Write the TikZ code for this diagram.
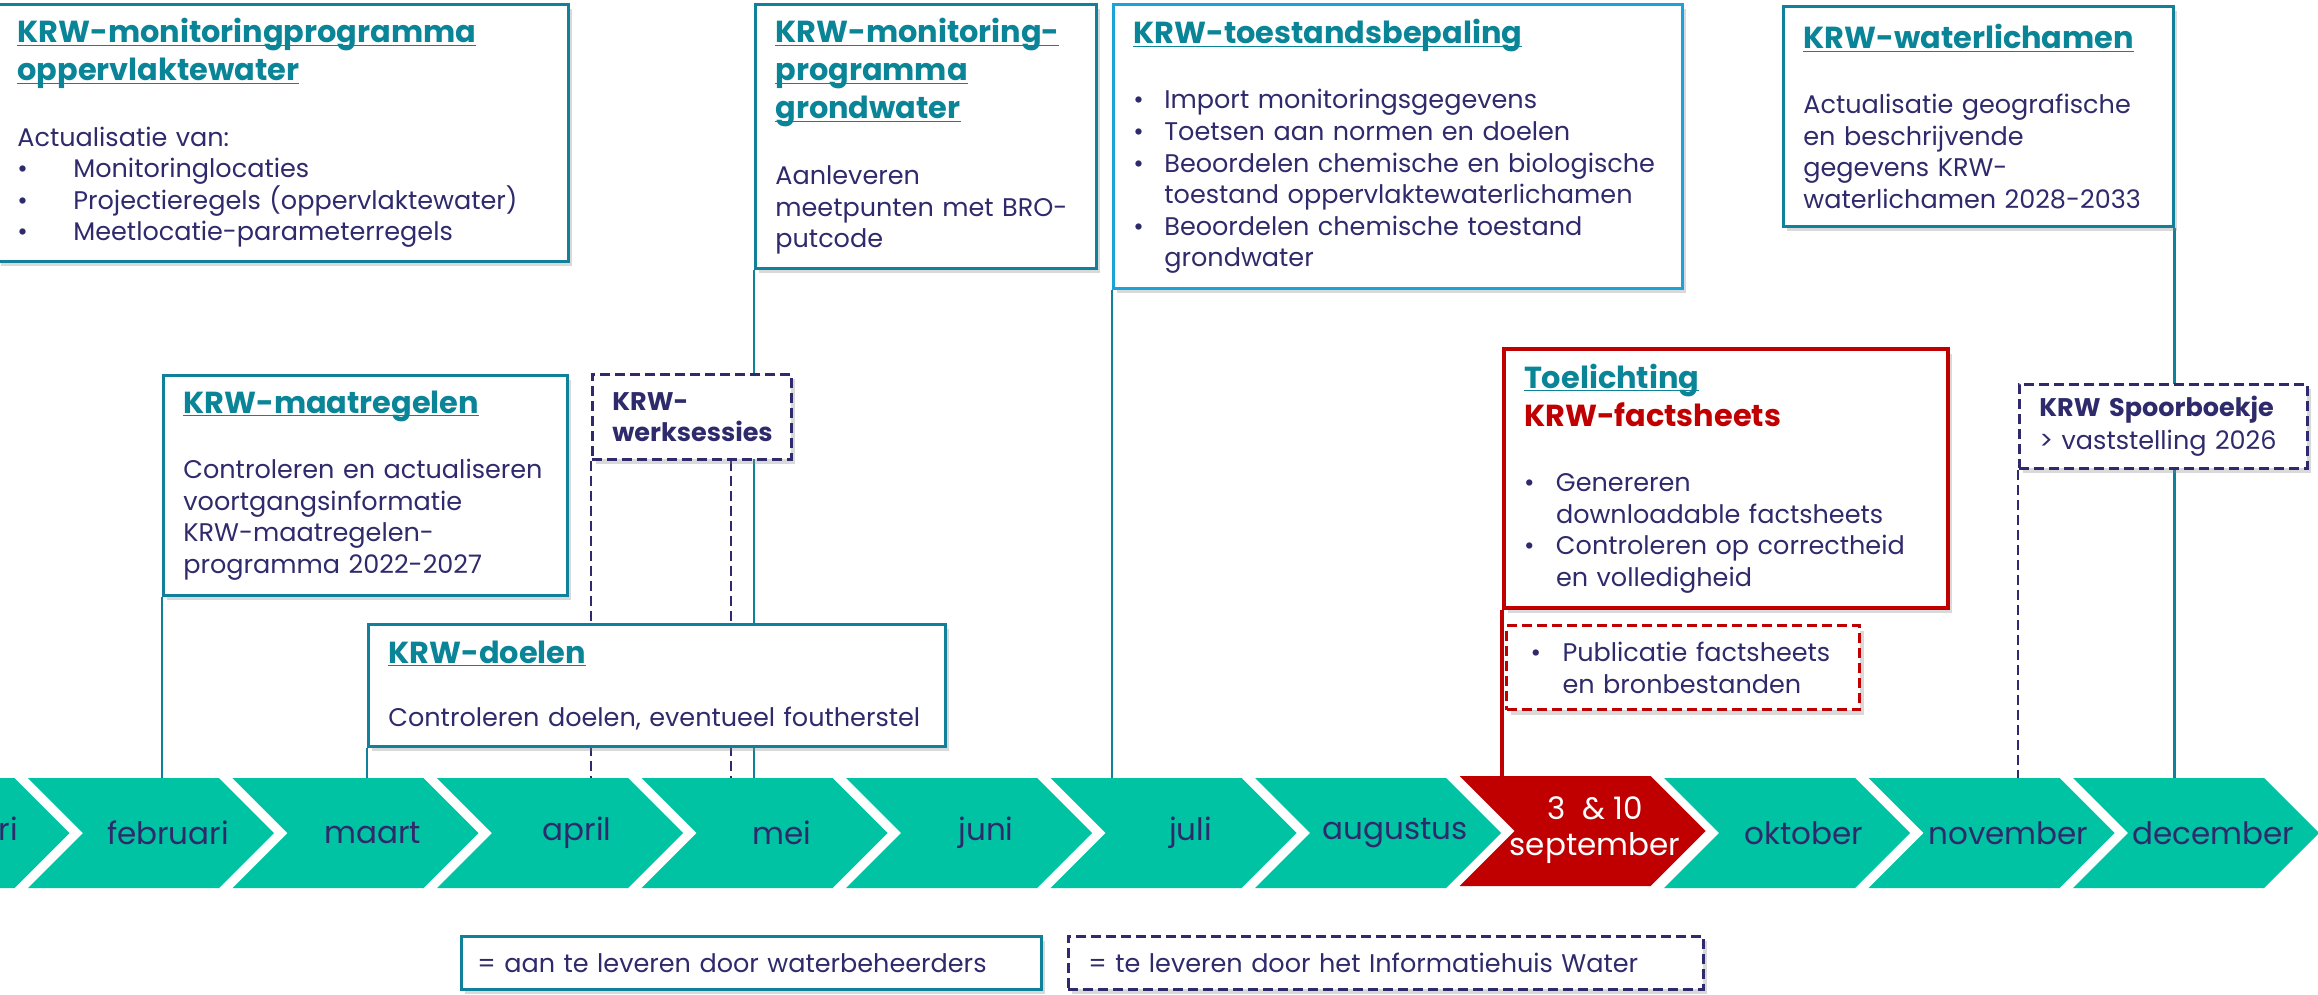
\documentclass[tikz,border=0pt]{standalone}
\usepackage{fontspec}
\setmainfont{Poppins}
\usetikzlibrary{shadows,backgrounds}
\definecolor{krwteal}{HTML}{11809A}
\definecolor{krwtitle}{HTML}{0A8497}
\definecolor{krwblue}{HTML}{1AA3D9}
\definecolor{krwgreen}{HTML}{00C3A3}
\definecolor{krwnavy}{HTML}{2E2A6B}
\definecolor{krwred}{HTML}{C00000}
\newcommand\ttlfont{\fontsize{15.2}{19}\selectfont\bfseries\color{krwtitle}}
\newcommand\ttl[1]{\underline{\smash{#1}}\vphantom{#1}}
\newcommand\bul[1]{\makebox[#1][l]{\textbullet}}

\begin{document}
\begin{tikzpicture}[x=0.5pt,y=-0.5pt,
    box/.style={draw=krwteal,line width=1.4pt,fill=white,anchor=north west,align=left,
      inner xsep=10pt,inner ysep=0pt,text=krwnavy,font=\fontsize{12.75}{15.8}\selectfont,
      drop shadow={shadow xshift=2pt,shadow yshift=-2.5pt,opacity=0.3}},
    dashbox/.style={box,draw=krwnavy,dash pattern=on 5pt off 2.5pt},
    redbox/.style={box,draw=krwred,line width=2pt},
    link/.style={draw=krwteal,line width=1.4pt},
    dashlink/.style={draw=krwnavy,line width=1.4pt,dash pattern=on 5pt off 2.5pt},
    chev/.style={fill=krwgreen},
    month/.style={text=krwnavy,font=\fontsize{15.5}{18}\selectfont}]
	\useasboundingbox (0,0) rectangle (2318,995);
	\coordinate (band) at (0,778);

	\node[box,text width=265.5pt,minimum height=128.5pt] (mop) at (-4,3) {{\ttlfont\ttl{KRW-monitoringprogramma}\\\ttl{oppervlaktewater}\par}\vspace{17pt}Actualisatie van:\\\bul{28pt}Monitoringlocaties\\\bul{28pt}Projectieregels (oppervlaktewater)\\\bul{28pt}Meetlocatie-parameterregels};
	\node[box,text width=150.5pt,minimum height=132pt] (mgw) at (754,3) {{\ttlfont\ttl{KRW-monitoring-}\\\ttl{programma}\\\ttl{grondwater}\par}\vspace{17pt}Aanleveren\\meetpunten met BRO-\\putcode};
	\node[box,draw=krwblue,text width=264.5pt,minimum height=142pt] (tsb) at (1112,3) {{\ttlfont\ttl{KRW-toestandsbepaling}\par}\vspace{17pt}\bul{15.5pt}Import monitoringsgegevens\\\bul{15.5pt}Toetsen aan normen en doelen\\\bul{15.5pt}Beoordelen chemische en biologische\\\hspace*{15.5pt}toestand oppervlaktewaterlichamen\\\bul{15.5pt}Beoordelen chemische toestand\\\hspace*{15.5pt}grondwater};
	\node[box,text width=175pt,minimum height=110pt] (wlc) at (1782,5) {{\ttlfont\ttl{KRW-waterlichamen}\par}\vspace{17pt}Actualisatie geografische\\en beschrijvende\\gegevens KRW-\\waterlichamen 2028-2033};
	\node[box,text width=182pt,minimum height=110pt] (mrg) at (162,374) {{\ttlfont\ttl{KRW-maatregelen}\par}\vspace{17pt}Controleren en actualiseren\\voortgangsinformatie\\KRW-maatregelen-\\programma 2022-2027};
	\node[dashbox,text width=79.5pt,minimum height=42.5pt,font=\fontsize{12.75}{15.5}\selectfont\bfseries] (wks) at (591,373) {KRW-\\werksessies};
	\node[box,text width=268.5pt,minimum height=61pt] (dln) at (367,623) {{\ttlfont\ttl{KRW-doelen}\par}\vspace{16pt}Controleren doelen, eventueel foutherstel};
	\node[redbox,text width=202pt,minimum height=129.5pt] (tlc) at (1502,347) {{\ttlfont\ttl{Toelichting}\\\color{krwred}KRW-factsheets\par}\vspace{17pt}\bul{16pt}Genereren\\\hspace*{16pt}downloadable factsheets\\\bul{16pt}Controleren op correctheid\\\hspace*{16pt}en volledigheid};
	\node[redbox,dash pattern=on 5pt off 2.5pt,line width=1.6pt,inner xsep=12pt,text width=152.5pt,minimum height=42pt] (pub) at (1505,624) {\bul{16pt}Publicatie factsheets\\\hspace*{16pt}en bronbestanden};
	\node[dashbox,text width=124pt,minimum height=42pt] (spb) at (2018,383) {{\bfseries KRW Spoorboekje}\\[1pt]> vaststelling 2026};

	\node[box,inner xsep=8pt,text width=274pt,minimum height=26.5pt] (lg1) at (460,935) {= aan te leveren door waterbeheerders};
	\node[dashbox,text width=297.5pt,minimum height=26.5pt] (lg2) at (1067,935) {= te leveren door het Informatiehuis Water};

	\foreach \i/\m in {0/januari,1/februari,2/maart,3/april,4/mei,5/juni,6/juli,7/augustus,9/oktober,10/november,11/december}{
		\pgfmathsetmacro\L{-176.5+204.5*\i}
		\fill[chev] (\L,778) -- ++(191,0) -- ++(55,55) -- ++(-55,55) -- ++(-191,0) -- ++(55,-55) -- cycle;
		\node[month] (m\i) at (\L+140,833) {\m};
	}
	\fill[krwred] (1459.5,776) -- ++(191,0) -- ++(55,55) -- ++(-55,55) -- ++(-191,0) -- ++(55,-55) -- cycle;
	\node[month,text=white,align=center] (m8) at (1595,830) {3\ \ \& 10\\september};

	\begin{pgfonlayer}{background}
		\draw[link] (mgw.south west) -- (mgw.south west |- band);
		\draw[link] (tsb.south west) -- (tsb.south west |- band);
		\draw[link] (wlc.south east) -- (wlc.south east |- band);
		\draw[link] (mrg.south west) -- (mrg.south west |- band);
		\draw[link] (dln.south west) -- (dln.south west |- band);
		\draw[link,draw=krwred,line width=1.8pt] (tlc.south west) -- (tlc.south west |- band);
		\draw[dashlink] (wks.south west) -- (wks.south west |- band);
		\draw[dashlink] ([xshift=70pt]wks.south west) -- ([xshift=70pt]wks.south west |- band);
		\draw[dashlink] (spb.south west) -- (spb.south west |- band);
	\end{pgfonlayer}
\end{tikzpicture}
\end{document}
